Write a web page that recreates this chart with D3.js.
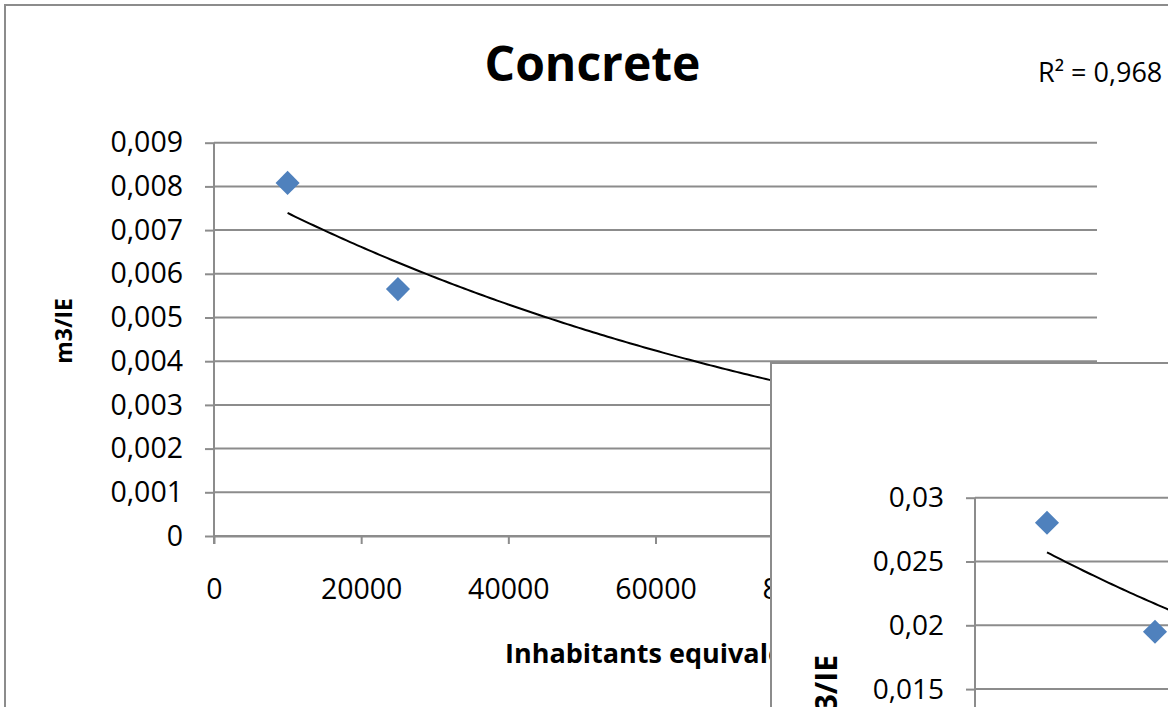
<!DOCTYPE html>
<html><head><meta charset="utf-8">
<script src="https://cdn.jsdelivr.net/npm/d3@7"></script>
<style>
body{margin:0;background:#fff;overflow:hidden}
svg{display:block}
text{font-family:"Open Sans",sans-serif;fill:#000}
</style>
</head><body><svg id="c" width="1168" height="707"></svg>
<script>
// ---- data ----
const ieValues = [10000, 25000];                 // inhabitants equivalent
const concreteM3 = [0.00808, 0.00565];           // main chart m3/IE
const insetM3 = [0.02804, 0.0195];               // overlapping chart m3/IE
const trendMain = [0.00826, -1.11e-5];           // exponential trend y = a*e^(b*x)
const trendInset = [0.02881, -1.136e-5];
const trendRange = [10000, 100000];
const rSquaredLabel = "R² = 0,968";
const titleText = "Concrete";
const xTitle = "Inhabitants equivalents";
const yTitle = "m3/IE";
const xTickValues = [0, 20000, 40000, 60000, 80000, 100000, 120000];
const xTickLabels = ["0", "20000", "40000", "60000", "80000", "100000", "120000"];
const yTickValuesMain = [0, 0.001, 0.002, 0.003, 0.004, 0.005, 0.006, 0.007, 0.008, 0.009];
const yTickLabelsMain = ["0", "0,001", "0,002", "0,003", "0,004", "0,005", "0,006", "0,007", "0,008", "0,009"];
const yTickValuesInset = [0, 0.005, 0.01, 0.015, 0.02, 0.025, 0.03];
const yTickLabelsInset = ["0", "0,005", "0,01", "0,015", "0,02", "0,025", "0,03"];

// ---- drawing ----
const svg = d3.select("#c");
const GRID = "#8c8c8c";
const BLUE = "#4f81bd";

function drawChart(g, cfg) {
  const x = d3.scaleLinear().domain([0, 120000]).range(cfg.xRange);
  const y = d3.scaleLinear().domain(cfg.yDomain).range(cfg.yRange);
  // gridlines
  g.append("g").selectAll("line").data(cfg.yTicks).join("line")
    .attr("x1", cfg.xRange[0]).attr("x2", cfg.xRange[1])
    .attr("y1", d => y(d)).attr("y2", d => y(d))
    .attr("stroke", GRID).attr("stroke-width", 2);
  // y axis
  const ya = g.append("g").attr("transform", `translate(${cfg.xRange[0]},0)`)
    .call(d3.axisLeft(y).tickValues(cfg.yTicks).tickFormat((d, i) => cfg.yLabels[i])
      .tickSize(9).tickSizeOuter(0).tickPadding(22));
  ya.selectAll("path,line").attr("stroke", GRID).attr("stroke-width", 2);
  ya.select(".domain").attr("d", `M0,${cfg.yRange[1]}V${y(cfg.yDomain[0]) + 8}`);
  ya.selectAll("text").attr("font-size", cfg.tickFont).attr("font-family", "Open Sans").attr("fill", "#000");
  // x axis
  const xa = g.append("g").attr("transform", `translate(0,${y(cfg.yDomain[0])})`)
    .call(d3.axisBottom(x).tickValues(xTickValues).tickFormat((d, i) => xTickLabels[i])
      .tickSize(8).tickSizeOuter(0));
  xa.selectAll("path,line").attr("stroke", GRID).attr("stroke-width", 2);
  xa.selectAll("text").attr("font-size", cfg.tickFont).attr("font-family", "Open Sans")
    .attr("fill", "#000").attr("dy", 0).attr("y", 63);
  // trend line
  const pts = d3.range(trendRange[0], trendRange[1] + 1, 500)
    .map(v => [v, cfg.trend[0] * Math.exp(cfg.trend[1] * v)]);
  g.append("path").datum(pts)
    .attr("d", d3.line().x(d => x(d[0])).y(d => y(d[1])))
    .attr("fill", "none").attr("stroke", "#000").attr("stroke-width", 2);
  // markers
  g.append("g").selectAll("path").data(ieValues).join("path")
    .attr("d", d3.symbol(d3.symbolSquare, 290))
    .attr("transform", (d, i) => `translate(${x(d)},${y(cfg.values[i])}) rotate(45)`)
    .attr("fill", BLUE);
}

// main chart frame
svg.append("rect").attr("x", 5).attr("y", 5).attr("width", 1300).attr("height", 900)
  .attr("fill", "#fff").attr("stroke", GRID).attr("stroke-width", 2);

const main = svg.append("g");
drawChart(main, {
  xRange: [214, 1097], yDomain: [0, 0.009], yRange: [536, 142.7],
  yTicks: yTickValuesMain, yLabels: yTickLabelsMain, values: concreteM3,
  trend: trendMain, tickFont: "28.5px"
});
main.append("text").attr("x", 592.5).attr("y", 81).attr("text-anchor", "middle")
  .attr("font-size", "48px").attr("font-weight", "bold").text(titleText);
main.append("text").attr("x", 1038).attr("y", 82)
  .attr("font-size", "27px").text(rSquaredLabel);
main.append("text").attr("x", 505).attr("y", 663)
  .attr("font-size", "27px").attr("font-weight", "bold").text(xTitle);
main.append("text").attr("transform", "translate(72,331) rotate(-90)")
  .attr("text-anchor", "middle").attr("font-size", "23px").attr("font-weight", "bold").text(yTitle);

// overlapping second chart
const inset = svg.append("g");
inset.append("rect").attr("x", 771).attr("y", 363).attr("width", 900).attr("height", 900)
  .attr("fill", "#fff").attr("stroke", GRID).attr("stroke-width", 2);
drawChart(inset, {
  xRange: [975, 975 + 120000 * 0.0072], yDomain: [0, 0.03], yRange: [880.5, 497.7],
  yTicks: yTickValuesInset, yLabels: yTickLabelsInset, values: insetM3,
  trend: trendInset, tickFont: "28px"
});
inset.append("text").attr("transform", "translate(837,655) rotate(-90)")
  .attr("text-anchor", "end").attr("font-size", "30px").attr("font-weight", "bold").text(yTitle);
</script>
</body></html>
